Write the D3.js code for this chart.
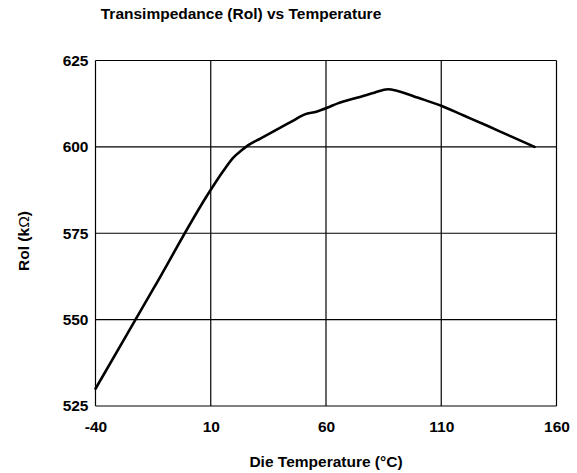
<!DOCTYPE html>
<html>
<head>
<meta charset="utf-8">
<script src="https://cdn.jsdelivr.net/npm/d3@7"></script>
<style>
  html, body { margin: 0; padding: 0; background: #fff; }
  svg text { font-family: "Liberation Sans", Arial, Helvetica, sans-serif; font-weight: bold; fill: #000; }
</style>
</head>
<body>
<svg id="chart" width="577" height="473"></svg>
<script>
// Die temperature (°C) and transimpedance Rol (kΩ)
const temps = [-40, -15, 10, 15.5, 19.8, 23.4, 26.3, 31.5, 40, 45, 50.8, 55.8, 60.8, 65.1, 73.8, 81, 86.8, 91.1, 100, 110, 120, 130, 140, 150.5];
const rol   = [530, 558.8, 587.6, 593.1, 596.9, 599.0, 600.5, 602.4, 605.5, 607.3, 609.4, 610.2, 611.4, 612.6, 614.3, 615.7, 616.7, 616.2, 614.2, 611.9, 609.0, 606.1, 603.1, 600];
const xTicks = [-40, 10, 60, 110, 160];
const yTicks = [525, 550, 575, 600, 625];

const svg = d3.select("#chart");
const m = { left: 95.5, top: 60.5, right: 20.5, bottom: 67 };
const W = 577 - m.left - m.right, H = 473 - m.top - m.bottom;
const fs = 15.5;

const x = d3.scaleLinear().domain([-40, 160]).range([0, W]);
const y = d3.scaleLinear().domain([525, 625]).range([H, 0]);

const g = svg.append("g").attr("transform", `translate(${m.left},${m.top})`);

// grid lines
g.append("g").selectAll("line").data(xTicks).join("line")
  .attr("x1", d => x(d)).attr("x2", d => x(d)).attr("y1", 0).attr("y2", H)
  .attr("stroke", "#000").attr("stroke-width", 1.2);
g.append("g").selectAll("line").data(yTicks).join("line")
  .attr("y1", d => y(d)).attr("y2", d => y(d)).attr("x1", 0).attr("x2", W)
  .attr("stroke", "#000").attr("stroke-width", 1.2);

// axes (labels only)
const fmt = d => String(d);
const xAxis = g.append("g").attr("transform", `translate(0,${H})`)
  .call(d3.axisBottom(x).tickValues(xTicks).tickSize(0).tickPadding(15).tickFormat(fmt));
const yAxis = g.append("g")
  .call(d3.axisLeft(y).tickValues(yTicks).tickSize(0).tickPadding(7).tickFormat(fmt));
[xAxis, yAxis].forEach(a => {
  a.select(".domain").remove();
  a.selectAll("text").attr("font-size", fs).attr("font-family", null).style("font-weight", "bold");
});

// curve
const line = d3.line().x((d, i) => x(temps[i])).y(d => y(d)).curve(d3.curveMonotoneX);
g.append("path").datum(rol).attr("d", line)
  .attr("fill", "none").attr("stroke", "#000").attr("stroke-width", 2.6)
  .attr("stroke-linejoin", "round").attr("stroke-linecap", "round");

// titles
svg.append("text").attr("x", 241).attr("y", 19).attr("text-anchor", "middle")
  .attr("font-size", fs).text("Transimpedance (Rol) vs Temperature");
svg.append("text").attr("x", 326).attr("y", 467).attr("text-anchor", "middle")
  .attr("font-size", fs).text("Die Temperature (°C)");
const yl = svg.append("text").attr("transform", "translate(29,241) rotate(-90)")
  .attr("text-anchor", "middle").attr("font-size", fs);
yl.append("tspan").text("Rol (k");
yl.append("tspan").attr("font-weight", "normal").style("font-weight", "normal").text("Ω");
yl.append("tspan").text(")");
</script>
</body>
</html>
